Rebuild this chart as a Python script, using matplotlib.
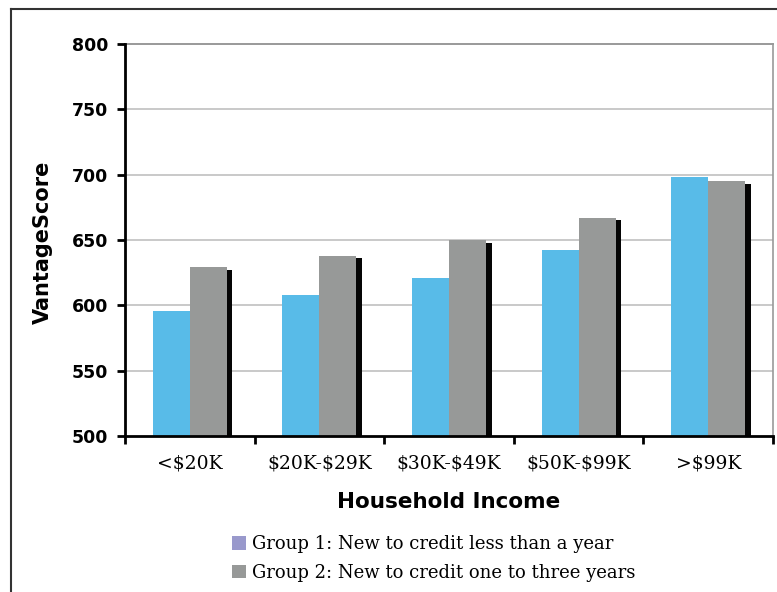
import matplotlib
matplotlib.use("Agg")
import matplotlib.pyplot as plt
from matplotlib.patches import Patch
from matplotlib.lines import Line2D
import numpy as np

plt.rcParams["text.parse_math"] = False

categories = ["<$20K", "$20K-$29K", "$30K-$49K", "$50K-$99K", ">$99K"]
group1 = [596, 608, 621, 642, 698]
group2 = [629, 638, 650, 667, 695]
yticks = [500, 550, 600, 650, 700, 750, 800]
legend_labels = ["Group 1: New to credit less than a year",
                 "Group 2: New to credit one to three years"]

W, H = 777, 592
fig = plt.figure(figsize=(W / 100, H / 100), dpi=100)
fig.patch.set_facecolor("white")

# outer frame (left and top visible)
fig.add_artist(Line2D([11 / W, 11 / W], [0, 1 - 9 / H], transform=fig.transFigure, color="#333333", lw=1.5))
fig.add_artist(Line2D([11 / W, 1], [1 - 9 / H, 1 - 9 / H], transform=fig.transFigure, color="#333333", lw=1.5))

left, right, top, bottom = 125, 773, 44, 436
ax = fig.add_axes([left / W, 1 - bottom / H, (right - left) / W, (bottom - top) / H])

x = np.arange(len(categories))
bw = 0.285
shadow_dx = 0.043
ax.bar(x + bw / 2 + shadow_dx, np.array(group2) - 2, width=bw, color="#050505", zorder=2)
ax.bar(x - bw / 2, group1, width=bw, color="#58BBE8", zorder=3)
ax.bar(x + bw / 2, group2, width=bw, color="#979998", zorder=3)

ax.set_ylim(500, 800)
ax.set_xlim(-0.5, len(categories) - 0.5)
ax.set_yticks(yticks)
ax.set_yticklabels([str(v) for v in yticks], fontsize=12.5, fontweight="bold", family="DejaVu Sans")
for v in yticks[1:-1]:
    ax.axhline(v, color="#c0c0c0", lw=1.2, zorder=1)
ax.axhline(800, color="#999999", lw=1.4, zorder=1, clip_on=False)

ax.set_xticks(x)
ax.set_xticklabels(categories, fontsize=13.5, family="DejaVu Serif")
ax.tick_params(axis="x", which="major", length=0, pad=13)
ax.set_xticks(np.arange(-0.5, len(categories)), minor=True)
ax.tick_params(axis="x", which="minor", length=6, width=2, color="black", direction="out")
ax.tick_params(axis="y", length=6, width=2, color="black", direction="out", pad=6)

for s in ["left", "bottom"]:
    ax.spines[s].set_linewidth(2)
    ax.spines[s].set_color("black")
ax.spines["right"].set_color("#999999")
ax.spines["right"].set_linewidth(1.2)
ax.spines["top"].set_visible(False)
ax.spines["left"].set_zorder(5)
ax.spines["bottom"].set_zorder(5)

ax.set_xlabel("Household Income", fontsize=15.5, fontweight="bold", family="DejaVu Sans")
ax.xaxis.set_label_coords(0.5, -(492 - 436) / 392)
ax.set_ylabel("VantageScore", fontsize=15, fontweight="bold", family="DejaVu Sans")
ax.yaxis.set_label_coords((53 - 125) / 648, 1 - (242 - 44) / 392)

handles = [Patch(facecolor="#9999CC", edgecolor="none"), Patch(facecolor="#979998", edgecolor="none")]
fig.legend(handles, legend_labels, loc="upper left", bbox_to_anchor=(223 / W, 1 - 526 / H),
           frameon=False, prop={"family": "DejaVu Serif", "size": 13},
           handlelength=0.8, handleheight=0.8, handletextpad=0.3, labelspacing=0.6, borderpad=0)

fig.savefig("out.png", dpi=100, facecolor="white")
